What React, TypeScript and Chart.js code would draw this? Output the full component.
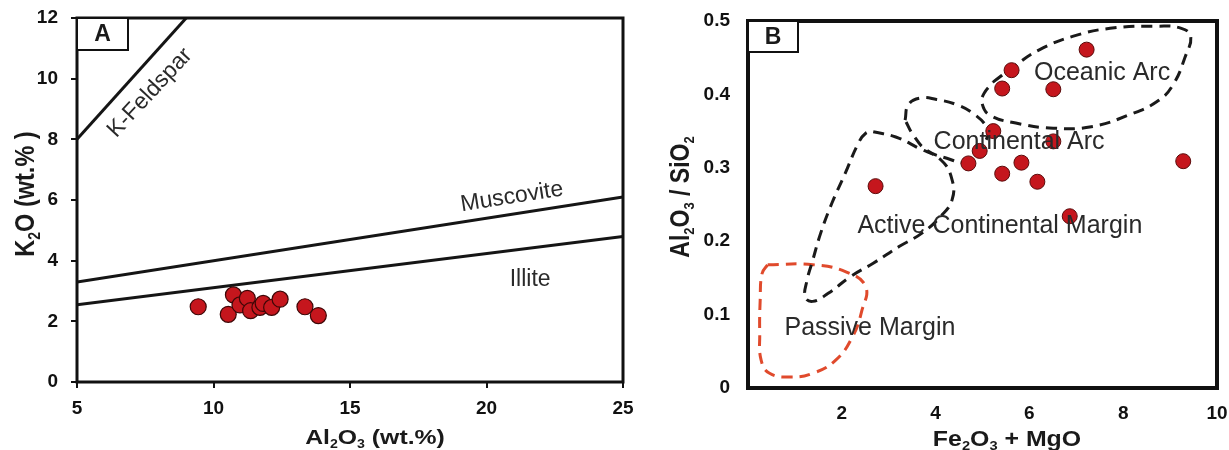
import React, { useEffect, useRef } from 'react';
import { Chart, registerables } from 'chart.js';

Chart.register(...registerables);

// ---------- Panel A data ----------
const al2o3 = [9.44, 10.54, 10.73, 10.97, 11.24, 11.36, 11.7, 11.82, 12.13, 12.44, 13.35, 13.84];
const k2o = [2.48, 2.23, 2.87, 2.54, 2.76, 2.35, 2.46, 2.59, 2.46, 2.73, 2.48, 2.19];
const kFeldsparX = [5, 9];
const kFeldsparY = [8, 12];
const muscoviteX = [5, 25];
const muscoviteY = [3.3, 6.1];
const illiteX = [5, 25];
const illiteY = [2.55, 4.8];
const aXTicks = [5, 10, 15, 20, 25];
const aYTicks = [0, 2, 4, 6, 8, 10, 12];
const aLabels = ['K-Feldspar', 'Muscovite', 'Illite'];
const aLabelX = [7.67, 20.93, 21.6];
const aLabelY = [9.53, 6.1, 3.36];
const aLabelRot = [-47, -9, 0];

// ---------- Panel B data ----------
const feMg = [2.72, 4.7, 4.94, 5.23, 5.42, 5.42, 5.62, 5.83, 6.17, 6.51, 6.51, 6.86, 7.22, 9.28];
const alSi = [0.275, 0.306, 0.323, 0.35, 0.292, 0.408, 0.433, 0.307, 0.281, 0.407, 0.336, 0.234, 0.461, 0.309];
const oceanicArcX = [5.23, 5.71, 6.19, 6.92, 7.72, 8.76, 9.24, 9.44, 9.32, 9.08, 8.76, 8.12, 7.32, 6.51, 5.71, 5.15, 4.99, 5.03];
const oceanicArcY = [0.417, 0.44, 0.46, 0.479, 0.49, 0.493, 0.49, 0.479, 0.451, 0.415, 0.392, 0.372, 0.356, 0.354, 0.361, 0.372, 0.388, 0.401];
const continentalArcX = [3.35, 3.42, 3.67, 4.02, 4.45, 4.8, 5.09, 5.12, 4.95, 4.66, 4.24, 3.81, 3.52];
const continentalArcY = [0.365, 0.386, 0.395, 0.393, 0.386, 0.374, 0.356, 0.345, 0.327, 0.308, 0.313, 0.324, 0.345];
const activeMarginX = [2.67, 3.15, 3.63, 4.11, 4.35, 4.35, 4.11, 3.71, 3.23, 2.67, 2.19, 1.71, 1.38, 1.22, 1.26, 1.38, 1.55, 1.79, 2.07, 2.35, 2.51];
const activeMarginY = [0.349, 0.342, 0.327, 0.311, 0.284, 0.256, 0.234, 0.211, 0.193, 0.17, 0.152, 0.129, 0.118, 0.124, 0.147, 0.174, 0.211, 0.252, 0.292, 0.333, 0.347];
const passiveMarginX = [0.42, 1.38, 2.1, 2.51, 2.43, 2.23, 1.87, 1.38, 0.9, 0.46, 0.28, 0.25, 0.26, 0.3];
const passiveMarginY = [0.168, 0.168, 0.158, 0.138, 0.106, 0.07, 0.038, 0.02, 0.015, 0.02, 0.038, 0.074, 0.12, 0.156];
const bXTicks = [0, 2, 4, 6, 8, 10];
const bYTicks = [0, 0.1, 0.2, 0.3, 0.4, 0.5];
const bLabels = ['Oceanic Arc', 'Continental Arc', 'Active Continental Margin', 'Passive Margin'];
const bLabelX = [7.55, 5.78, 5.37, 2.6];
const bLabelY = [0.429, 0.335, 0.221, 0.082];

const FAMILY = '"Liberation Sans", Arial, Helvetica, sans-serif';

type Seg = { t: string; sub?: boolean };

function pts(xs: number[], ys: number[], close = false) {
  const p = xs.map((x, i) => ({ x, y: ys[i] }));
  if (close) p.push({ ...p[0] });
  return p;
}

function drawRich(ctx: CanvasRenderingContext2D, segs: Seg[], x: number, y: number, size: number, rot: number, sx: number) {
  const big = `bold ${size}px ${FAMILY}`;
  const small = `bold ${Math.round(size * 0.58)}px ${FAMILY}`;
  ctx.save();
  ctx.translate(x, y);
  ctx.scale(sx, 1);
  ctx.rotate(rot);
  let w = 0;
  segs.forEach((s) => {
    ctx.font = s.sub ? small : big;
    w += ctx.measureText(s.t).width;
  });
  let cx = -w / 2;
  ctx.textBaseline = 'alphabetic';
  ctx.textAlign = 'left';
  ctx.fillStyle = '#1a1a1a';
  segs.forEach((s) => {
    ctx.font = s.sub ? small : big;
    ctx.fillText(s.t, cx, size * 0.36 + (s.sub ? size * 0.2 : 0));
    cx += ctx.measureText(s.t).width;
  });
  ctx.restore();
}

type Title = { segs: Seg[]; x: number; y: number; size: number; rot: number; sx: number };

type Deco = {
  frame: number;
  letter: string;
  boxW: number;
  boxH: number;
  titles: Title[];
  labels: string[];
  lx: number[];
  ly: number[];
  lrot: number[];
  labelSize: number;
};

function decoPlugin(d: Deco) {
  return {
    id: 'deco',
    afterDraw(chart: any) {
      const ctx: CanvasRenderingContext2D = chart.ctx;
      const a = chart.chartArea;
      const xs = chart.scales.x;
      const ys = chart.scales.y;
      ctx.save();
      // region labels
      ctx.fillStyle = '#2a2a2a';
      ctx.font = `normal ${d.labelSize}px ${FAMILY}`;
      ctx.textAlign = 'center';
      ctx.textBaseline = 'middle';
      d.labels.forEach((t, i) => {
        ctx.save();
        ctx.translate(xs.getPixelForValue(d.lx[i]), ys.getPixelForValue(d.ly[i]));
        ctx.rotate((d.lrot[i] * Math.PI) / 180);
        ctx.fillText(t, 0, 0);
        ctx.restore();
      });
      // frame
      ctx.strokeStyle = '#111';
      ctx.lineWidth = d.frame;
      ctx.strokeRect(a.left, a.top, a.right - a.left, a.bottom - a.top);
      // letter box
      ctx.lineWidth = 2;
      ctx.fillStyle = '#fff';
      ctx.fillRect(a.left, a.top, d.boxW, d.boxH);
      ctx.strokeRect(a.left, a.top, d.boxW, d.boxH);
      ctx.fillStyle = '#1a1a1a';
      ctx.font = `bold 23px ${FAMILY}`;
      ctx.textAlign = 'center';
      ctx.textBaseline = 'middle';
      ctx.fillText(d.letter, a.left + d.boxW / 2, a.top + d.boxH / 2 + 1);
      ctx.restore();
      d.titles.forEach((t) => drawRich(ctx, t.segs, t.x, t.y, t.size, t.rot, t.sx));
    },
  };
}

const tickFont = { family: FAMILY, size: 19, weight: 'bold' as const };

function ChartA() {
  const ref = useRef<HTMLCanvasElement>(null);
  useEffect(() => {
    const chart = new Chart(ref.current!, {
      type: 'scatter',
      data: {
        datasets: [
          {
            data: pts(al2o3, k2o),
            pointRadius: 8,
            backgroundColor: '#c5161d',
            borderColor: '#3d0707',
            borderWidth: 1.2,
            order: 0,
          },
          { data: pts(kFeldsparX, kFeldsparY), showLine: true, pointRadius: 0, borderColor: '#151515', borderWidth: 3, order: 1 },
          { data: pts(muscoviteX, muscoviteY), showLine: true, pointRadius: 0, borderColor: '#151515', borderWidth: 3, order: 1 },
          { data: pts(illiteX, illiteY), showLine: true, pointRadius: 0, borderColor: '#151515', borderWidth: 3, order: 1 },
        ],
      } as any,
      options: {
        animation: false,
        responsive: false,
        events: [],
        layout: { padding: { top: 18, right: 17, left: 0, bottom: 0 } },
        plugins: { legend: { display: false }, tooltip: { enabled: false } },
        scales: {
          x: {
            type: 'linear',
            min: 5,
            max: 25,
            afterBuildTicks: (s: any) => {
              s.ticks = aXTicks.map((v) => ({ value: v }));
            },
            grid: { drawOnChartArea: false, drawTicks: true, tickLength: 6, color: '#111', lineWidth: 2 },
            border: { display: false },
            ticks: { font: tickFont, color: '#111', padding: 9, maxRotation: 0, autoSkip: false },
            afterFit: (s: any) => {
              s.height = 68;
              s.paddingLeft = 0;
              s.paddingRight = 0;
            },
          },
          y: {
            type: 'linear',
            min: 0,
            max: 12,
            afterBuildTicks: (s: any) => {
              s.ticks = aYTicks.map((v) => ({ value: v }));
            },
            grid: { drawOnChartArea: false, drawTicks: true, tickLength: 6, color: '#111', lineWidth: 2 },
            border: { display: false },
            ticks: { font: tickFont, color: '#111', padding: 13, autoSkip: false },
            afterFit: (s: any) => {
              s.width = 77;
              s.paddingTop = 0;
              s.paddingBottom = 0;
            },
          },
        },
      } as any,
      plugins: [
        decoPlugin({
          frame: 3,
          letter: 'A',
          boxW: 51,
          boxH: 32,
          titles: [
            { segs: [{ t: 'K' }, { t: '2', sub: true }, { t: 'O (wt.% )' }], x: 24, y: 194, size: 23.5, rot: -Math.PI / 2, sx: 1.18 },
            { segs: [{ t: 'Al' }, { t: '2', sub: true }, { t: 'O' }, { t: '3', sub: true }, { t: ' (wt.%)' }], x: 375, y: 436, size: 21, rot: 0, sx: 1.18 },
          ],
          labels: aLabels,
          lx: aLabelX,
          ly: aLabelY,
          lrot: aLabelRot,
          labelSize: 23,
        }),
      ],
    });
    return () => chart.destroy();
  }, []);
  return <canvas ref={ref} width={640} height={450} style={{ position: 'absolute', left: 0, top: 0, width: 640, height: 450 }} />;
}

function region(xs: number[], ys: number[], color: string) {
  return {
    data: pts(xs, ys, true),
    showLine: true,
    pointRadius: 0,
    borderColor: color,
    borderWidth: 3,
    borderDash: [11, 7],
    tension: 0.45,
    order: 1,
  };
}

function ChartB() {
  const ref = useRef<HTMLCanvasElement>(null);
  useEffect(() => {
    const chart = new Chart(ref.current!, {
      type: 'scatter',
      data: {
        datasets: [
          {
            data: pts(feMg, alSi),
            pointRadius: 7.5,
            backgroundColor: '#c5161d',
            borderColor: '#5a0b0b',
            borderWidth: 1,
            order: 0,
          },
          region(oceanicArcX, oceanicArcY, '#1a1a1a'),
          region(continentalArcX, continentalArcY, '#1a1a1a'),
          region(activeMarginX, activeMarginY, '#1a1a1a'),
          region(passiveMarginX, passiveMarginY, '#e04a2c'),
        ],
      } as any,
      options: {
        animation: false,
        responsive: false,
        events: [],
        layout: { padding: { top: 21, right: 12, left: 0, bottom: 0 } },
        plugins: { legend: { display: false }, tooltip: { enabled: false } },
        scales: {
          x: {
            type: 'linear',
            min: 0,
            max: 10,
            afterBuildTicks: (s: any) => {
              s.ticks = bXTicks.map((v) => ({ value: v }));
            },
            grid: { display: false, drawTicks: false },
            border: { display: false },
            ticks: {
              font: tickFont,
              color: '#111',
              padding: 14,
              maxRotation: 0,
              autoSkip: false,
              callback: (v: any) => (v === 0 ? '' : String(v)),
            },
            afterFit: (s: any) => {
              s.height = 62;
              s.paddingLeft = 0;
              s.paddingRight = 0;
            },
          },
          y: {
            type: 'linear',
            min: 0,
            max: 0.5,
            afterBuildTicks: (s: any) => {
              s.ticks = bYTicks.map((v) => ({ value: v }));
            },
            grid: { display: false, drawTicks: false },
            border: { display: false },
            ticks: { font: tickFont, color: '#111', padding: 18, autoSkip: false },
            afterFit: (s: any) => {
              s.width = 108;
              s.paddingTop = 0;
              s.paddingBottom = 0;
            },
          },
        },
      } as any,
      plugins: [
        decoPlugin({
          frame: 4,
          letter: 'B',
          boxW: 50,
          boxH: 31,
          titles: [
            {
              segs: [{ t: 'Al' }, { t: '2', sub: true }, { t: 'O' }, { t: '3', sub: true }, { t: ' / SiO' }, { t: '2', sub: true }],
              x: 39,
              y: 197,
              size: 23,
              rot: -Math.PI / 2,
              sx: 1.18,
            },
            { segs: [{ t: 'Fe' }, { t: '2', sub: true }, { t: 'O' }, { t: '3', sub: true }, { t: ' + MgO' }], x: 367, y: 438, size: 22, rot: 0, sx: 1.13 },
          ],
          labels: bLabels,
          lx: bLabelX,
          ly: bLabelY,
          lrot: [0, 0, 0, 0],
          labelSize: 25,
        }),
      ],
    });
    return () => chart.destroy();
  }, []);
  return <canvas ref={ref} width={589} height={450} style={{ position: 'absolute', left: 640, top: 0, width: 589, height: 450 }} />;
}

export default function App() {
  return (
    <div style={{ position: 'absolute', left: 0, top: 0, width: 1229, height: 450, background: '#fff', overflow: 'hidden' }}>
      <ChartA />
      <ChartB />
    </div>
  );
}
